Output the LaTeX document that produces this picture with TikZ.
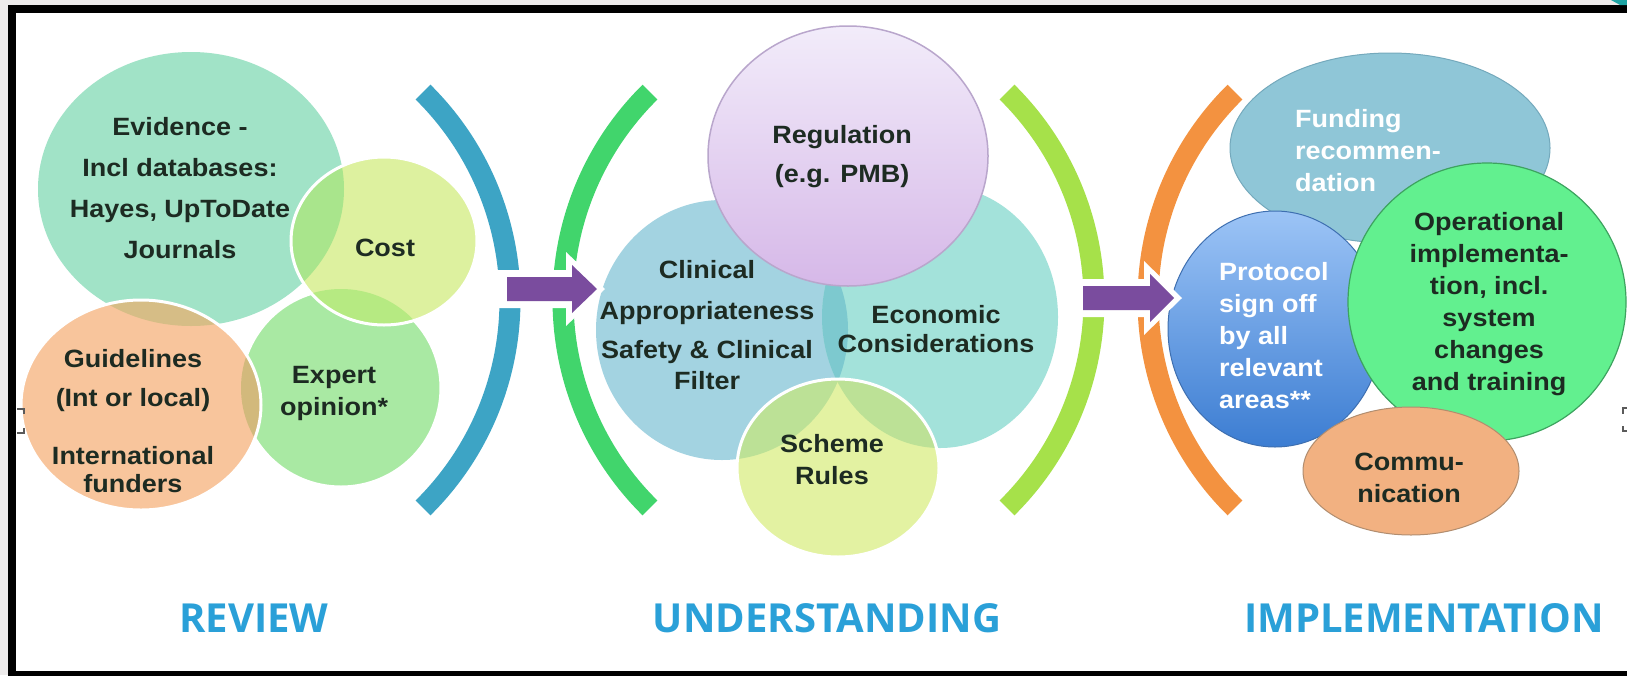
\documentclass[tikz,border=0pt]{standalone}
\usepackage{fontspec}
\newfontfamily\tf{Liberation Sans}[FakeStretch=1.08]
\newfontfamily\hf{Open Sans}
\definecolor{framegray}{HTML}{EDEBEB}
\definecolor{evc}{HTML}{A1E3C7}
\definecolor{coc}{HTML}{DDF19F}
\definecolor{exc}{HTML}{A9E9A3}
\definecolor{guc}{HTML}{F8C59C}
\definecolor{evco}{HTML}{A9E58C}
\definecolor{coex}{HTML}{B6EA82}
\definecolor{guev}{HTML}{D6BD86}
\definecolor{guex}{HTML}{D2B97C}
\definecolor{clc}{HTML}{A3D3E1}
\definecolor{ecc}{HTML}{A3E2DA}
\definecolor{clec}{HTML}{7DC9CF}
\definecolor{regtop}{HTML}{F2ECFA}
\definecolor{regbot}{HTML}{D6B8E8}
\definecolor{regline}{HTML}{B9A6CC}
\definecolor{scc}{HTML}{E3F2A2}
\definecolor{scov}{HTML}{BCE196}
\definecolor{fuc}{HTML}{8FC6D7}
\definecolor{fuline}{HTML}{74A9BC}
\definecolor{prtop}{HTML}{9CC4F6}
\definecolor{prbot}{HTML}{3C7DD2}
\definecolor{prline}{HTML}{3E6FB0}
\definecolor{opc}{HTML}{62F08F}
\definecolor{opline}{HTML}{3DA35F}
\definecolor{cmc}{HTML}{F2B181}
\definecolor{cmline}{HTML}{B18D6F}
\definecolor{tealc}{HTML}{3DA4C5}
\definecolor{grnc}{HTML}{41D56C}
\definecolor{limec}{HTML}{A6E14A}
\definecolor{orngc}{HTML}{F39240}
\definecolor{purp}{HTML}{7A4C9E}
\definecolor{txtc}{HTML}{1D2B22}
\definecolor{lblc}{HTML}{2AA0D8}
\definecolor{cornerc}{HTML}{1FA5A5}
\definecolor{markc}{HTML}{5A5A5A}
\def\EV{(191,189) ellipse [x radius=153, y radius=137]}
\def\CO{(384,241) ellipse [x radius=93, y radius=84]}
\def\EX{(341,388) ellipse [x radius=100, y radius=99]}
\def\GU{(141,405) ellipse [x radius=120, y radius=105]}
\def\RG{(848,156) ellipse [x radius=140, y radius=130]}
\def\CL{(722,330) ellipse [x radius=126, y radius=130]}
\def\EC{(940,317) ellipse [x radius=118, y radius=131]}
\def\SC{(838,468) ellipse [x radius=101, y radius=89]}
\def\FU{(1390,148) ellipse [x radius=160, y radius=95]}
\def\PR{(1275,329) ellipse [x radius=107, y radius=118]}
\def\OP{(1487,302) ellipse [x radius=139, y radius=139]}
\def\CM{(1411,471) ellipse [x radius=108, y radius=64]}
\begin{document}
\begin{tikzpicture}[x=1pt,y=-1pt,
  txt/.style={font=\tf\bfseries\fontsize{25}{32}\selectfont, text=txtc, align=center, inner sep=0pt},
  wtxt/.style={txt, text=white, align=left, anchor=west},
  lbl/.style={font=\hf\bfseries\fontsize{40}{48}\selectfont, text=lblc, inner sep=0pt, anchor=base},
  band/.style={line width=21pt},
  wline/.style={draw=white, line width=3pt},
  blockarrow/.style={fill=purp},
  arrowback/.style={fill=white}]
\useasboundingbox (0,0) rectangle (1627,675);
% frame
\fill[framegray] (0,0) rectangle (1627,675);
\fill[black] (8,5) rectangle (1640,690);
\fill[white] (16,13) rectangle (1640,671);
\fill[cornerc] (1611,0) -- (1627,0) -- (1627,5) -- (1620,5) -- cycle;

% ---------- REVIEW cluster ----------
\fill[evc] \EV;
\fill[exc] \EX;
\draw[wline] \EX;
\fill[coc] \CO;
\begin{scope}\clip \CO; \fill[evco] \EV; \fill[coex] \EX; \end{scope}
\draw[wline] \CO;
\fill[guc] \GU;
\begin{scope}\clip \GU; \fill[guev] \EV; \fill[guex] \EX; \end{scope}
\draw[wline] \GU;

% ---------- UNDERSTANDING cluster ----------
\fill[clc] \CL;
\fill[ecc] \EC;
\begin{scope}\clip \CL; \fill[clec] \EC; \end{scope}
\shade[top color=regtop, bottom color=regbot] \RG;
\draw[regline, line width=1.5pt] \RG;
\fill[scc] \SC;
\begin{scope}\clip \SC; \fill[scov] \CL; \fill[scov] \EC; \end{scope}
\draw[wline] \SC;

% ---------- IMPLEMENTATION cluster ----------
\fill[fuc] \FU;
\draw[fuline, line width=1pt] \FU;
\shade[top color=prtop, bottom color=prbot] \PR;
\draw[prline, line width=1pt] \PR;
\fill[opc] \OP;
\draw[opline, line width=1.2pt] \OP;
\fill[cmc] \CM;
\draw[cmline, line width=1pt] \CM;

% ---------- bracket arcs ----------
\draw[band, tealc] (218,300) ++(-45.4:292) arc[start angle=-45.4, end angle=45.4, radius=292];
\draw[band, grnc] (855,300) ++(134.6:292) arc[start angle=134.6, end angle=225.4, radius=292];
\draw[band, limec] (802,300) ++(-45.4:292) arc[start angle=-45.4, end angle=45.4, radius=292];
\draw[band, orngc] (1440,300) ++(134.6:292) arc[start angle=134.6, end angle=225.4, radius=292];

% ---------- block arrows ----------
\fill[arrowback] (489,270) -- (566,270) -- (566,252) -- (605,289) -- (566,326) -- (566,308) -- (489,308) -- cycle;
\fill[blockarrow] (507,277) -- (572,277) -- (572,265) -- (597,289) -- (572,313) -- (572,301) -- (507,301) -- cycle;
\fill[arrowback] (1067,279) -- (1144,279) -- (1144,261) -- (1182,298) -- (1144,335) -- (1144,317) -- (1067,317) -- cycle;
\fill[blockarrow] (1083,286) -- (1150,286) -- (1150,274) -- (1174,298) -- (1150,322) -- (1150,310) -- (1083,310) -- cycle;

% small marks
\draw[markc, line width=1.5pt] (17,409) -- (24,409) -- (24,414) (24,428) -- (24,433) -- (17,433);
\draw[markc, line width=1.5pt] (1627,408) -- (1623,408) -- (1623,414) (1623,426) -- (1623,431) -- (1627,431);

% ---------- texts ----------
\node[txt] (tev) at (180,188) {Evidence -\\[9pt]Incl databases:\\[9pt]Hayes, UpToDate\\[9pt]Journals};
\node[txt] (tco) at (385,248) {Cost};
\node[txt] (tex) at (334,393) {Expert\\opinion*};
\node[txt] (tgu) at (133,421) {Guidelines\\[7pt](Int or local)\\[26pt]International\\[-4pt]funders};
\node[txt] (trg) at (842,157) {Regulation\\[7pt](e.g. PMB)};
\node[txt] (tcl) at (707,325) {Clinical\\[9pt]Appropriateness\\[7pt]Safety \& Clinical\\[-1pt]Filter};
\node[txt] (tec) at (936,329) {Economic\\[-3pt]Considerations};
\node[txt] (tsc) at (832,460) {Scheme\\Rules};
\node[wtxt] (tfu) at (1295,151) {Funding\\recommen-\\dation};
\node[wtxt] (tpr) at (1219,336) {Protocol\\sign off\\by all\\relevant\\areas**};
\node[txt] (top) at (1489,304) {Operational\\implementa-\\tion, incl.\\system\\changes\\and training};
\node[txt] (tcm) at (1409,478) {Commu-\\nication};

\node[lbl] (lrev) at (254,632) {REVIEW};
\node[lbl] (lund) at (827,632) {UNDERSTANDING};
\node[lbl] (limp) at (1424,632) {IMPLEMENTATION};
\end{tikzpicture}
\end{document}
